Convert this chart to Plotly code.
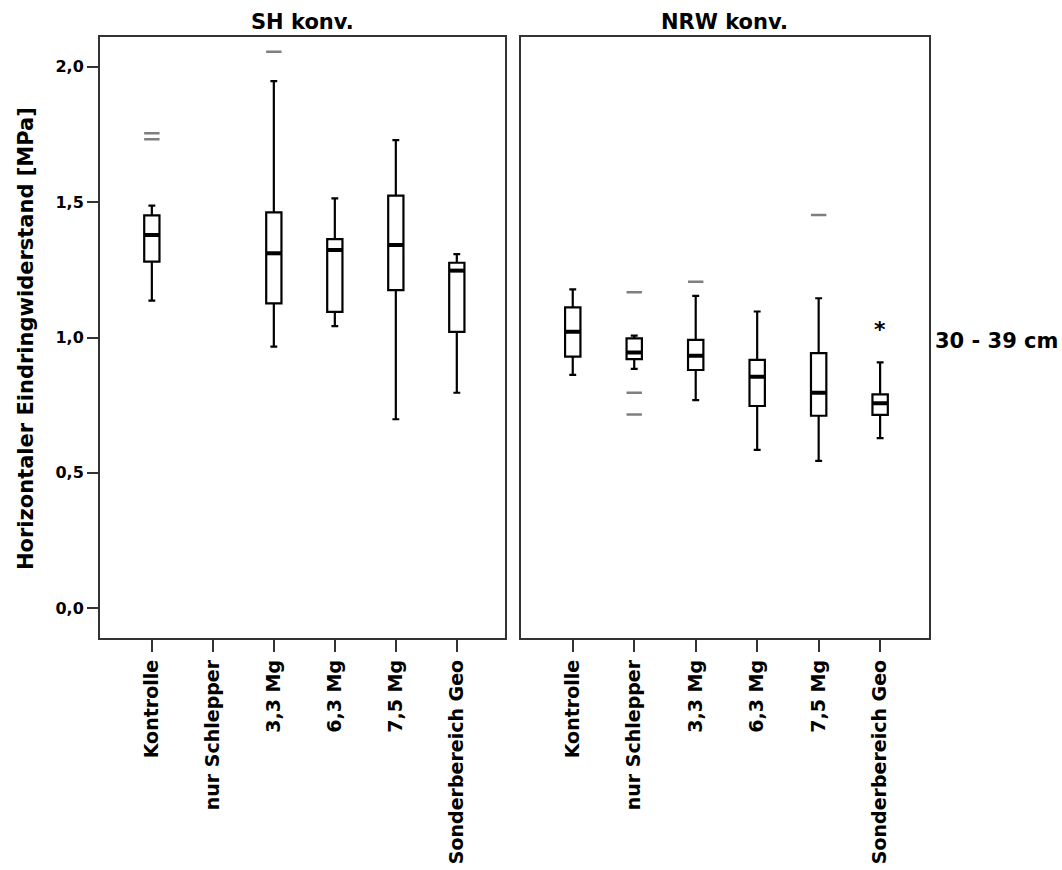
import plotly.graph_objects as go

# Treatment categories (same order in both panels)
categories = ["Kontrolle", "nur Schlepper", "3,3 Mg", "6,3 Mg", "7,5 Mg", "Sonderbereich Geo"]
y_tick_vals = [0.0, 0.5, 1.0, 1.5, 2.0]
y_tick_text = ["0,0", "0,5", "1,0", "1,5", "2,0"]

# SH konv. – box statistics (no data for "nur Schlepper")
sh_low = [1.136, None, 0.966, 1.042, 0.698, 0.796]
sh_q1 = [1.280, None, 1.126, 1.095, 1.175, 1.021]
sh_med = [1.379, None, 1.311, 1.323, 1.342, 1.247]
sh_q3 = [1.451, None, 1.462, 1.363, 1.524, 1.276]
sh_high = [1.487, None, 1.947, 1.514, 1.729, 1.308]
sh_out_cat = ["Kontrolle", "Kontrolle", "3,3 Mg"]
sh_out_val = [1.754, 1.732, 2.055]

# NRW konv. – box statistics
nrw_low = [0.862, 0.884, 0.769, 0.585, 0.544, 0.628]
nrw_q1 = [0.929, 0.920, 0.880, 0.747, 0.711, 0.714]
nrw_med = [1.021, 0.945, 0.933, 0.855, 0.796, 0.757]
nrw_q3 = [1.111, 0.997, 0.991, 0.917, 0.942, 0.790]
nrw_high = [1.178, 1.007, 1.154, 1.096, 1.145, 0.908]
nrw_out_cat = ["nur Schlepper", "nur Schlepper", "nur Schlepper", "3,3 Mg", "7,5 Mg"]
nrw_out_val = [1.167, 0.796, 0.716, 1.206, 1.452]
nrw_ext_cat = ["Sonderbereich Geo"]
nrw_ext_val = [1.046]

FONT = "DejaVu Sans"
BOX_W = 0.25
AX_COLOR = "#333333"

fig = go.Figure()


def add_panel(low, q1, med, q3, high, out_cat, out_val, xa, ya):
    idx = [i for i, v in enumerate(med) if v is not None]
    fig.add_trace(go.Box(
        x=idx,
        lowerfence=[low[i] for i in idx],
        q1=[q1[i] for i in idx],
        median=[med[i] for i in idx],
        q3=[q3[i] for i in idx],
        upperfence=[high[i] for i in idx],
        width=BOX_W, whiskerwidth=0.45, boxpoints=False,
        fillcolor="white", line=dict(color="black", width=2.2),
        xaxis=xa, yaxis=ya, showlegend=False, hoverinfo="skip",
    ))
    # thick median bars
    mx, my = [], []
    for i in idx:
        mx += [i - BOX_W / 2, i + BOX_W / 2, None]
        my += [med[i], med[i], None]
    fig.add_trace(go.Scatter(
        x=mx, y=my, mode="lines", line=dict(color="black", width=4),
        xaxis=xa, yaxis=ya, showlegend=False, hoverinfo="skip",
    ))
    # outliers drawn as short dashes
    fig.add_trace(go.Scatter(
        x=[categories.index(c) for c in out_cat], y=out_val, mode="markers",
        marker=dict(symbol="line-ew", size=11, line=dict(color="#7f7f7f", width=2.5)),
        xaxis=xa, yaxis=ya, showlegend=False, hoverinfo="skip",
    ))


add_panel(sh_low, sh_q1, sh_med, sh_q3, sh_high, sh_out_cat, sh_out_val, "x", "y")
add_panel(nrw_low, nrw_q1, nrw_med, nrw_q3, nrw_high, nrw_out_cat, nrw_out_val, "x2", "y2")

annotations = []
# extreme values marked with an asterisk
for c, v in zip(nrw_ext_cat, nrw_ext_val):
    annotations.append(dict(
        x=categories.index(c), y=v, xref="x2", yref="y2", text="<b>*</b>", showarrow=False,
        font=dict(family=FONT, size=22, color="black"), yshift=-4,
    ))

W, H = 1062, 870
dom_y = [1 - 638.3 / H, 1 - 36.7 / H]
dom_x1 = [100 / W, 505 / W]
dom_x2 = [520.5 / W, 928.7 / W]
x_range = [-0.85, 5.79]
y_range = [-0.111, 2.111]

xaxis_common = dict(
    range=x_range, tickmode="array", tickvals=list(range(len(categories))),
    ticktext=categories, tickangle=-90, ticks="outside", ticklen=12, tickwidth=2,
    tickcolor=AX_COLOR, showline=True, mirror=True, linecolor=AX_COLOR, linewidth=2,
    showgrid=False, zeroline=False,
    tickfont=dict(family=FONT, size=19, color="black", weight="bold"),
)

annotations += [
    dict(x=(dom_x1[0] + dom_x1[1]) / 2, y=1 - 22 / H, xref="paper", yref="paper",
         text="<b>SH konv.</b>", showarrow=False, xanchor="center", yanchor="middle",
         font=dict(family=FONT, size=21, color="black")),
    dict(x=(dom_x2[0] + dom_x2[1]) / 2, y=1 - 22 / H, xref="paper", yref="paper",
         text="<b>NRW konv.</b>", showarrow=False, xanchor="center", yanchor="middle",
         font=dict(family=FONT, size=21, color="black")),
    dict(x=933 / W, y=1 - 341 / H, xref="paper", yref="paper",
         text="<b>30 - 39 cm</b>", showarrow=False, xanchor="left", yanchor="middle",
         font=dict(family=FONT, size=21, color="black")),
    dict(x=26 / W, y=1 - 339 / H, xref="paper", yref="paper", textangle=-90,
         text="<b>Horizontaler Eindringwiderstand [MPa]</b>", showarrow=False,
         xanchor="center", yanchor="middle",
         font=dict(family=FONT, size=21, color="black")),
]

fig.update_layout(
    width=W, height=H, autosize=False,
    margin=dict(l=0, r=0, t=0, b=0),
    paper_bgcolor="white", plot_bgcolor="white",
    xaxis=dict(domain=dom_x1, anchor="y", **xaxis_common),
    xaxis2=dict(domain=dom_x2, anchor="y2", **xaxis_common),
    yaxis=dict(
        domain=dom_y, anchor="x", range=y_range, tickmode="array",
        tickvals=y_tick_vals, ticktext=y_tick_text, ticks="outside", ticklen=11,
        tickwidth=2, tickcolor=AX_COLOR, showline=True, mirror=True,
        linecolor=AX_COLOR, linewidth=2, showgrid=False, zeroline=False,
        tickfont=dict(family=FONT, size=16, color="black", weight="bold"),
    ),
    yaxis2=dict(
        domain=dom_y, anchor="x2", range=y_range, showticklabels=False, ticks="",
        showline=True, mirror=True, linecolor=AX_COLOR, linewidth=2,
        showgrid=False, zeroline=False,
    ),
    annotations=annotations,
)

fig.write_html("out.html")
